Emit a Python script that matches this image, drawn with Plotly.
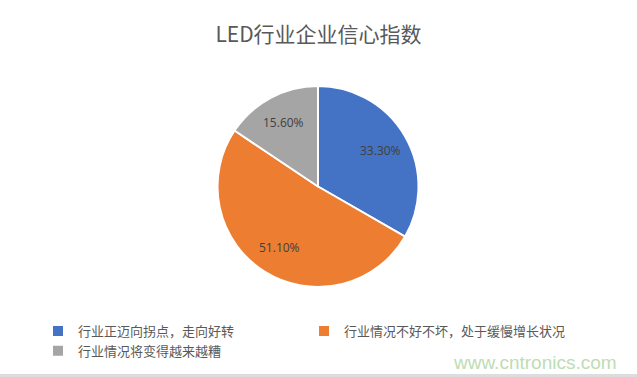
import math
import plotly.graph_objects as go

title = "LED行业企业信心指数"
categories = ["行业正迈向拐点，走向好转", "行业情况不好不坏，处于缓慢增长状况", "行业情况将变得越来越糟"]
values = [33.3, 51.1, 15.6]
colors = ["#4472C4", "#ED7D31", "#A5A5A5"]
watermark = "www.cntronics.com"

W, H = 637, 377
# pie placement (pixels)
cx, cy, R = 318, 186.5, 100.5
dom_x = [(cx - R) / W, (cx + R) / W]
dom_y = [1 - (cy + R) / H, 1 - (cy - R) / H]

fig = go.Figure(go.Pie(
    labels=categories,
    values=values,
    sort=False,
    direction="clockwise",
    rotation=0,
    marker=dict(colors=colors, line=dict(color="white", width=2)),
    textinfo="none",
    hoverinfo="label+percent",
    domain=dict(x=dom_x, y=dom_y),
))

# data labels placed along each slice's bisector (Excel-like best fit)
total = sum(values)
annotations = []
cum = 0.0
for v in values:
    mid = (cum + v / 2) / total * 2 * math.pi
    cum += v
    px = cx + 0.72 * R * math.sin(mid)
    py = cy - 0.72 * R * math.cos(mid)
    annotations.append(dict(
        text=f"{v:.2f}%", x=px / W, y=1 - py / H, xref="paper", yref="paper",
        showarrow=False, xanchor="center", yanchor="middle",
        font=dict(family="Open Sans, Noto Sans CJK SC", size=12, color="#404040")))

annotations.append(dict(text=watermark, x=535 / W, y=1 - 362 / H, xref="paper", yref="paper",
                        showarrow=False, xanchor="center", yanchor="middle",
                        font=dict(family="Liberation Sans, Arial", size=19, color="#BCDDB3")))

fig.update_layout(
    width=W, height=H,
    margin=dict(l=0, r=0, t=0, b=0),
    paper_bgcolor="white",
    plot_bgcolor="white",
    title=dict(text=title, x=0.5, xanchor="center", y=1 - 35 / H, yanchor="middle",
               font=dict(family="Noto Sans CJK SC", size=21, color="#595959")),
    showlegend=True,
    legend=dict(orientation="h", x=38 / W, xanchor="left", y=1 - 316 / H, yanchor="top",
                font=dict(family="Noto Sans CJK SC", size=13, color="#595959"),
                itemwidth=30, traceorder="normal"),
    font=dict(family="Noto Sans CJK SC"),
    annotations=annotations,
    shapes=[dict(type="line", xref="paper", yref="paper", x0=0, x1=1, y0=1.5 / H, y1=1.5 / H,
                 line=dict(color="#DDDDDD", width=3))],
)

fig.write_html("out.html", config={"displayModeBar": False},
               post_script="document.body.style.margin='0';")
